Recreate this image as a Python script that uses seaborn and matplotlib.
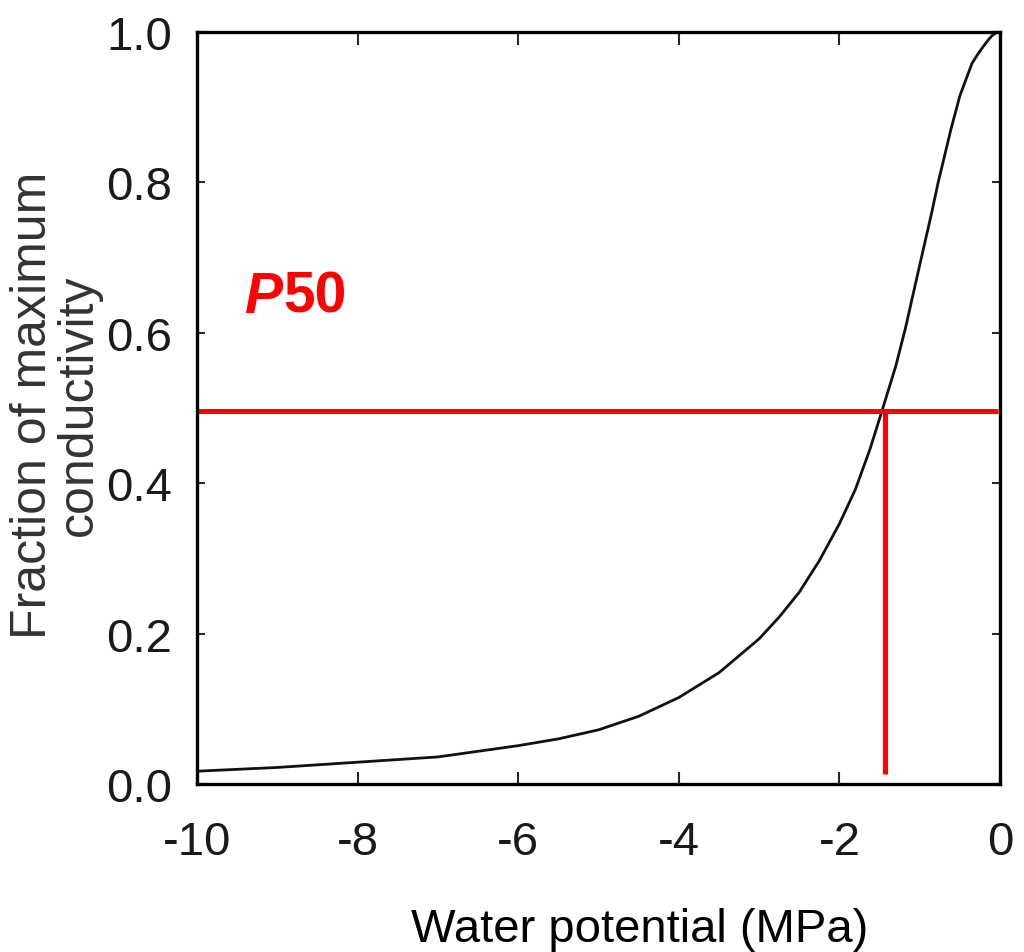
#!/usr/bin/env python3
#
# Vulnerability curve: fraction of max conductivity vs water potential

import pandas as pd
import matplotlib
matplotlib.use("Agg")
import matplotlib.pyplot as plt
import seaborn as sns

# values
water_potential = [-10, -9, -8, -7, -6, -5.5, -5, -4.5, -4, -3.5, -3, -2.75, -2.5, -2.25,
                   -2, -1.8, -1.62, -1.47, -1.3, -1.18, -1.0, -0.85, -0.77, -0.61,
                   -0.5, -0.35, -0.28, -0.22, -0.15, -0.1, -0.05, 0]
conductivity = [0.017, 0.022, 0.029, 0.036, 0.051, 0.060, 0.072, 0.090, 0.115, 0.148, 0.193, 0.222, 0.255, 0.297,
                0.346, 0.392, 0.445, 0.496, 0.555, 0.605, 0.69, 0.76, 0.80, 0.871,
                0.915, 0.958, 0.970, 0.979, 0.989, 0.995, 0.999, 1.0]
p50_x = -1.43
p50_y = 0.496
p50_line_bottom = 0.013
x_ticks = [-10, -8, -6, -4, -2, 0]
y_ticks = [0.0, 0.2, 0.4, 0.6, 0.8, 1.0]

sns.set_theme(style="ticks")
plt.rcParams["font.family"] = ["Liberation Sans", "DejaVu Sans"]

fig = plt.figure(figsize=(10.24, 9.53), dpi=100)
ax = fig.add_axes([197 / 1024, 1 - 785 / 953, 803 / 1024, 752 / 953])

df = pd.DataFrame({"psi": water_potential, "k": conductivity})
sns.lineplot(data=df, x="psi", y="k", ax=ax, color="#111111", linewidth=2.0)

# P50 guide lines
ax.plot([-10, -0.03], [p50_y, p50_y], color="#ff0000", linewidth=3.6, solid_capstyle="butt")
ax.plot([p50_x, p50_x], [p50_line_bottom, p50_y], color="#ff0000", linewidth=3.6, solid_capstyle="butt")

ax.set_xlim(-10, 0)
ax.set_ylim(0, 1)
ax.set_xticks(x_ticks)
ax.set_yticks(y_ticks)
ax.set_xticklabels([f"{t:d}" for t in x_ticks])
ax.set_yticklabels([f"{t:.1f}" for t in y_ticks])
ax.set_xlabel("")
ax.set_ylabel("")

for lab in ax.get_xticklabels() + ax.get_yticklabels():
    lab.set_fontsize(34)
    lab.set_color("#1a1a1a")

ax.tick_params(axis="x", direction="in", length=9, width=1.5, top=True, pad=26)
ax.tick_params(axis="y", direction="in", length=6, width=1.5, right=True, pad=18)
for spine in ax.spines.values():
    spine.set_visible(True)
    spine.set_linewidth(2.4)
    spine.set_color("black")

# P50 label
p_text = ax.text(-9.40, 0.628, "P", color="#ff0000", fontsize=41,
                 fontweight="bold", fontstyle="italic", va="baseline", ha="left")
ax.annotate("50", xy=(1, 0), xycoords=p_text, color="#ff0000", fontsize=41,
            fontweight="bold", va="bottom", ha="left")

fig.text(640 / 1024, 1 - 942 / 953, "Water potential (MPa)", fontsize=34,
         ha="center", va="baseline", color="black")
fig.text(56 / 1024, 1 - 405 / 953, "Fraction of maximum\nconductivity", fontsize=36,
         rotation=90, ha="center", va="center", color="#333333", linespacing=1.0)

fig.savefig("out.png", dpi=100)
